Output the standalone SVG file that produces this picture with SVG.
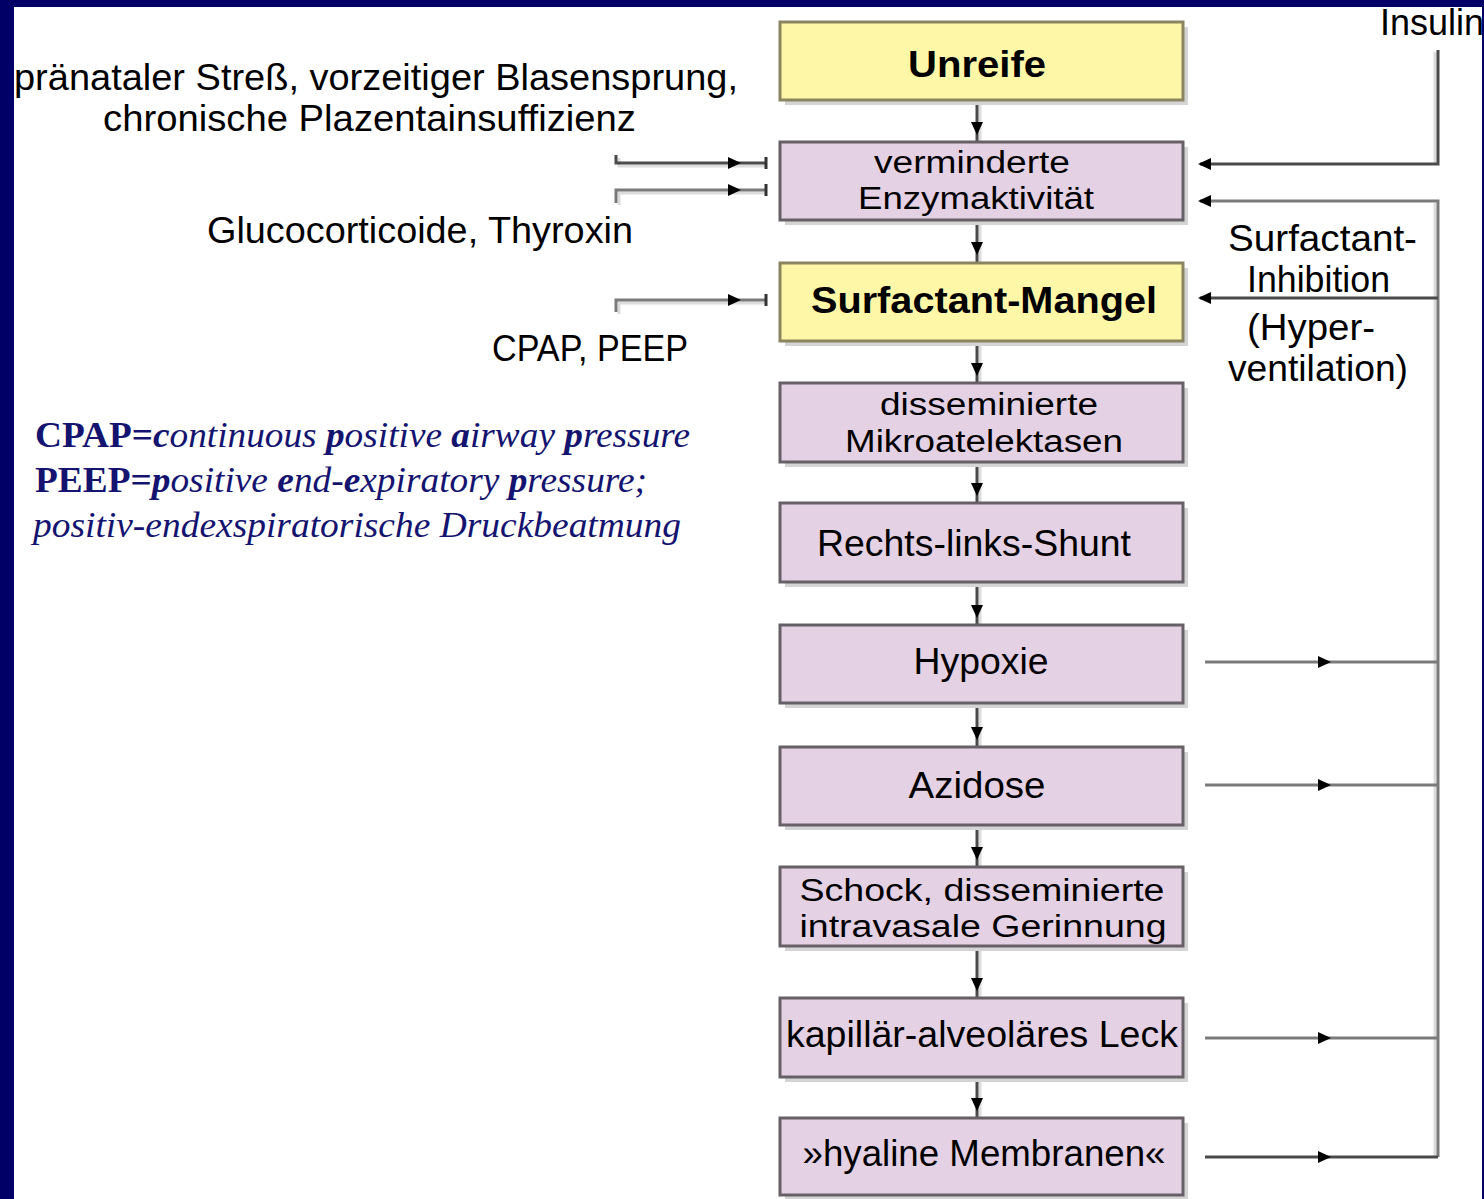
<svg xmlns="http://www.w3.org/2000/svg" width="1484" height="1199" viewBox="0 0 1484 1199">
<style>
.t{font-family:"Liberation Sans",Arial,sans-serif;font-size:36px;fill:#000}
.t2{font-size:31px}
.b{font-weight:bold}
.m{text-anchor:middle}
.box{fill:#E4D1E4;stroke:#676067;stroke-width:3}
.yel{fill:#FFF7A8;stroke:#8a8560;stroke-width:3}
.sh{fill:#d4d4d4}
.ln{fill:none;stroke:#4a4a4a;stroke-width:3}
.lg{fill:none;stroke:#7a7a7a;stroke-width:3}
.lsh{fill:none;stroke:#dcdcdc;stroke-width:3}
.bl{font-family:"Liberation Serif","Times New Roman",serif;font-size:35px;fill:#141470}
</style>
<defs>
<path id="ah" d="M7,0 L-6,-6 L-6,6 Z" fill="#000"/>
<path id="tick" d="M0,-6 V6" stroke="#333" stroke-width="3"/>
</defs>
<rect x="0" y="0" width="1484" height="1199" fill="#000066"/>
<rect x="14" y="7" width="1468" height="1192" fill="#fff"/>

<g id="connectors">
<g>
<path class="lsh" d="M980,100V142 M980,220V263 M980,341V383 M980,462V503 M980,582V625 M980,703V747 M980,825V867 M980,946V998 M980,1077V1118"/>
<path class="ln" d="M977,100V142 M977,220V263 M977,341V383 M977,462V503 M977,582V625 M977,703V747 M977,825V867 M977,946V998 M977,1077V1118"/>
<use href="#ah" transform="translate(977,128) rotate(90)"/>
<use href="#ah" transform="translate(977,248) rotate(90)"/>
<use href="#ah" transform="translate(977,369) rotate(90)"/>
<use href="#ah" transform="translate(977,489) rotate(90)"/>
<use href="#ah" transform="translate(977,611) rotate(90)"/>
<use href="#ah" transform="translate(977,733) rotate(90)"/>
<use href="#ah" transform="translate(977,853) rotate(90)"/>
<use href="#ah" transform="translate(977,984) rotate(90)"/>
<use href="#ah" transform="translate(977,1104) rotate(90)"/>
</g>
<g>
<path class="lsh" d="M619,158V166H765 M619,205V193H765 M619,314V303H765"/>
<path class="ln" d="M616,155V163H765"/>
<path class="lg" d="M616,203V190H765"/>
<path class="lg" d="M616,312V300H765"/>
<use href="#ah" transform="translate(734,163)"/>
<use href="#ah" transform="translate(734,190)"/>
<use href="#ah" transform="translate(734,300)"/>
<use href="#tick" transform="translate(766,163)"/>
<use href="#tick" transform="translate(766,190)"/>
<use href="#tick" transform="translate(766,300)"/>
</g>
<g>
<path class="lsh" d="M1435,52V164 M1435,203V1157"/>
<path class="ln" d="M1438,50V164H1200"/>
<path class="lg" d="M1200,201H1438V1157"/>
<path class="ln" d="M1438,298H1200"/>
<path class="lg" d="M1205,662H1438 M1205,785H1438 M1205,1038H1438"/>
<path class="ln" d="M1205,1157H1438"/>
<use href="#ah" transform="translate(1205,164) rotate(180)"/>
<use href="#ah" transform="translate(1205,201) rotate(180)"/>
<use href="#ah" transform="translate(1205,298) rotate(180)"/>
<use href="#ah" transform="translate(1324,662)"/>
<use href="#ah" transform="translate(1324,785)"/>
<use href="#ah" transform="translate(1324,1038)"/>
<use href="#ah" transform="translate(1324,1157)"/>
</g>
</g>

<g id="n-unreife">
<rect class="sh" x="785" y="27" width="403" height="78"/>
<rect class="yel" x="780" y="22" width="403" height="78"/>
<text class="t b m" x="977" y="77" textLength="138" lengthAdjust="spacingAndGlyphs">Unreife</text>
</g>
<g id="n-enzym">
<rect class="sh" x="785" y="147" width="403" height="78"/>
<rect class="box" x="780" y="142" width="403" height="78"/>
<text class="t t2 m" x="972" y="173" textLength="196" lengthAdjust="spacingAndGlyphs">verminderte</text>
<text class="t t2 m" x="976" y="209" textLength="236" lengthAdjust="spacingAndGlyphs">Enzymaktivität</text>
</g>
<g id="n-surf">
<rect class="sh" x="785" y="268" width="403" height="78"/>
<rect class="yel" x="780" y="263" width="403" height="78"/>
<text class="t b m" x="984" y="313" textLength="346" lengthAdjust="spacingAndGlyphs">Surfactant-Mangel</text>
</g>
<g id="n-mikro">
<rect class="sh" x="785" y="388" width="403" height="79"/>
<rect class="box" x="780" y="383" width="403" height="79"/>
<text class="t t2 m" x="989" y="415" textLength="218" lengthAdjust="spacingAndGlyphs">disseminierte</text>
<text class="t t2 m" x="984" y="452" textLength="278" lengthAdjust="spacingAndGlyphs">Mikroatelektasen</text>
</g>
<g id="n-shunt">
<rect class="sh" x="785" y="508" width="403" height="79"/>
<rect class="box" x="780" y="503" width="403" height="79"/>
<text class="t m" x="974" y="556" textLength="314" lengthAdjust="spacingAndGlyphs">Rechts-links-Shunt</text>
</g>
<g id="n-hypoxie">
<rect class="sh" x="785" y="630" width="403" height="78"/>
<rect class="box" x="780" y="625" width="403" height="78"/>
<text class="t m" x="981" y="674" textLength="135" lengthAdjust="spacingAndGlyphs">Hypoxie</text>
</g>
<g id="n-azidose">
<rect class="sh" x="785" y="752" width="403" height="78"/>
<rect class="box" x="780" y="747" width="403" height="78"/>
<text class="t m" x="977" y="798" textLength="137" lengthAdjust="spacingAndGlyphs">Azidose</text>
</g>
<g id="n-schock">
<rect class="sh" x="785" y="872" width="403" height="79"/>
<rect class="box" x="780" y="867" width="403" height="79"/>
<text class="t t2 m" x="982" y="901" textLength="365" lengthAdjust="spacingAndGlyphs">Schock, disseminierte</text>
<text class="t t2 m" x="983" y="937" textLength="367" lengthAdjust="spacingAndGlyphs">intravasale Gerinnung</text>
</g>
<g id="n-leck">
<rect class="sh" x="785" y="1003" width="403" height="79"/>
<rect class="box" x="780" y="998" width="403" height="79"/>
<text class="t m" x="982" y="1047" textLength="392" lengthAdjust="spacingAndGlyphs">kapillär-alveoläres Leck</text>
</g>
<g id="n-hyalin">
<rect class="sh" x="785" y="1123" width="403" height="77"/>
<rect class="box" x="780" y="1118" width="403" height="77"/>
<text class="t m" x="984" y="1166" textLength="363" lengthAdjust="spacingAndGlyphs">»hyaline Membranen«</text>
</g>

<g id="labels">
<text class="t" x="14" y="90" textLength="724" lengthAdjust="spacingAndGlyphs">pränataler Streß, vorzeitiger Blasensprung,</text>
<text class="t" x="103" y="131" textLength="533" lengthAdjust="spacingAndGlyphs">chronische Plazentainsuffizienz</text>
<text class="t" x="207" y="243" textLength="426" lengthAdjust="spacingAndGlyphs">Glucocorticoide, Thyroxin</text>
<text class="t" x="492" y="361" textLength="196" lengthAdjust="spacingAndGlyphs">CPAP, PEEP</text>
<text class="t" x="1380" y="35" textLength="104" lengthAdjust="spacingAndGlyphs">Insulin</text>
<text class="t" x="1228" y="251" textLength="189" lengthAdjust="spacingAndGlyphs">Surfactant-</text>
<text class="t" x="1247" y="292" textLength="143" lengthAdjust="spacingAndGlyphs">Inhibition</text>
<text class="t" x="1247" y="340" textLength="128" lengthAdjust="spacingAndGlyphs">(Hyper-</text>
<text class="t" x="1228" y="381" textLength="180" lengthAdjust="spacingAndGlyphs">ventilation)</text>
</g>
<rect x="1482" y="0" width="2" height="1199" fill="#000066"/>

<g id="legend">
<text class="bl" x="35" y="447" textLength="655" lengthAdjust="spacingAndGlyphs"><tspan font-weight="bold">CPAP=</tspan><tspan font-weight="bold" font-style="italic">c</tspan><tspan font-style="italic">ontinuous </tspan><tspan font-weight="bold" font-style="italic">p</tspan><tspan font-style="italic">ositive </tspan><tspan font-weight="bold" font-style="italic">a</tspan><tspan font-style="italic">irway </tspan><tspan font-weight="bold" font-style="italic">p</tspan><tspan font-style="italic">ressure</tspan></text>
<text class="bl" x="35" y="492" textLength="612" lengthAdjust="spacingAndGlyphs"><tspan font-weight="bold">PEEP=</tspan><tspan font-weight="bold" font-style="italic">p</tspan><tspan font-style="italic">ositive </tspan><tspan font-weight="bold" font-style="italic">e</tspan><tspan font-style="italic">nd-</tspan><tspan font-weight="bold" font-style="italic">e</tspan><tspan font-style="italic">xpiratory </tspan><tspan font-weight="bold" font-style="italic">p</tspan><tspan font-style="italic">ressure;</tspan></text>
<text class="bl" x="33" y="537" font-style="italic" textLength="648" lengthAdjust="spacingAndGlyphs">positiv-endexspiratorische Druckbeatmung</text>
</g>
</svg>
